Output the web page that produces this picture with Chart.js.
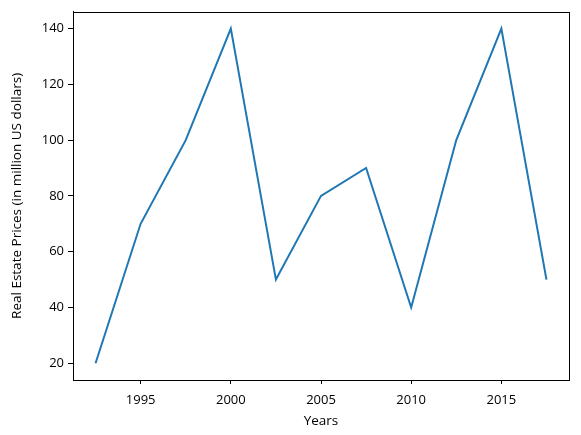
<!DOCTYPE html>
<html>
<head>
    <title>Real Estate Prices</title>
    <style>
        html, body { margin: 0; padding: 0; background: #fff; }
        #wrap { width: 581px; height: 435px; }
    </style>
    <script src="https://cdn.jsdelivr.net/npm/chart.js"></script>
</head>
<body>
    <div id="wrap"><canvas id="chart" width="581" height="435"></canvas></div>
    <script>
        var years = [1992.5, 1995, 1997.5, 2000, 2002.5, 2005, 2007.5, 2010, 2012.5, 2015, 2017.5];
        var prices = [20, 70, 100, 140, 50, 80, 90, 40, 100, 140, 50];
        var xTicks = [1995, 2000, 2005, 2010, 2015];
        var yTicks = [20, 40, 60, 80, 100, 120, 140];

        var points = years.map(function(x, i) { return {x: x, y: prices[i]}; });

        // draw the box round the plot like matplotlib does
        var frameBox = {
            id: 'frameBox',
            afterDraw: function(chart) {
                var a = chart.chartArea;
                var ctx = chart.ctx;
                ctx.save();
                ctx.strokeStyle = '#000';
                ctx.lineWidth = 1;
                ctx.strokeRect(Math.round(a.left) + 0.5, Math.round(a.top) + 0.5,
                    Math.round(a.right - a.left), Math.round(a.bottom - a.top));
                ctx.restore();
            }
        };

        var font = {family: '"Open Sans", "DejaVu Sans", sans-serif', size: 13};
        var titleFont = {family: '"Open Sans", "DejaVu Sans", sans-serif', size: 13.5};

        new Chart(document.getElementById('chart').getContext('2d'), {
            type: 'line',
            data: {
                datasets: [{
                    data: points,
                    borderColor: '#1f77b4',
                    borderWidth: 2,
                    pointRadius: 0,
                    tension: 0,
                    fill: false
                }]
            },
            options: {
                responsive: false,
                animation: false,
                layout: {padding: {top: 11, right: 12, left: 0, bottom: 0}},
                plugins: {legend: {display: false}, tooltip: {enabled: false}},
                scales: {
                    x: {
                        type: 'linear',
                        min: 1991.25,
                        max: 2018.75,
                        afterBuildTicks: function(s) { s.ticks = xTicks.map(function(v) { return {value: v}; }); },
                        afterFit: function(s) { s.height = 55; },
                        grid: {drawOnChartArea: false, drawTicks: true, tickLength: 4, color: '#000'},
                        border: {color: '#000'},
                        ticks: {color: '#000', font: font, padding: 8, maxRotation: 0,
                            callback: function(v) { return String(v); }},
                        title: {display: true, text: 'Years', color: '#000', font: titleFont, padding: {top: 0, bottom: 6}}
                    },
                    y: {
                        min: 14,
                        max: 146,
                        afterBuildTicks: function(s) { s.ticks = yTicks.map(function(v) { return {value: v}; }); },
                        afterFit: function(s) { s.width = 73; },
                        grid: {drawOnChartArea: false, drawTicks: true, tickLength: 5, color: '#000'},
                        border: {color: '#000'},
                        ticks: {color: '#000', font: font, padding: 4},
                        title: {display: true, text: 'Real Estate Prices (in million US dollars)', color: '#000', font: titleFont, padding: {top: 9, bottom: 0}}
                    }
                }
            },
            plugins: [frameBox]
        });
    </script>
</body>
</html>
